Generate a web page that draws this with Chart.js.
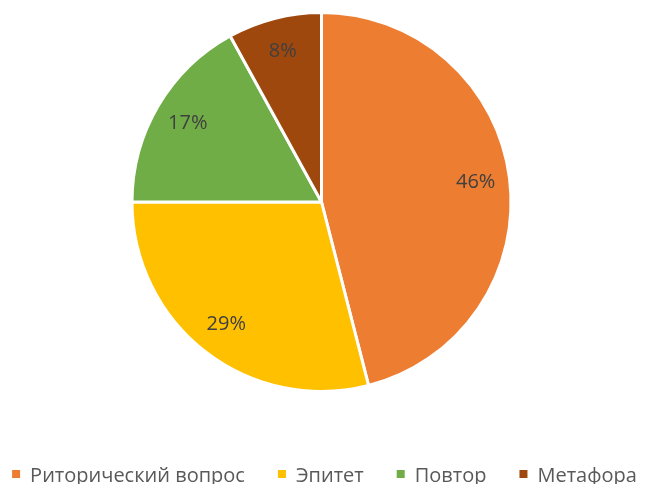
<!DOCTYPE html>
<html>
<head>
<meta charset="utf-8">
<script src="https://cdn.jsdelivr.net/npm/chart.js@4/dist/chart.umd.min.js"></script>
<style>
html,body{margin:0;padding:0;background:#fff;}
#wrap{width:645px;height:484px;position:relative;}
</style>
</head>
<body>
<div id="wrap"><canvas id="c" width="645" height="484"></canvas></div>
<script>
const categories = ["Риторический вопрос", "Эпитет", "Повтор", "Метафора"];
const values = [46, 29, 17, 8];
const labelTexts = ["46%", "29%", "17%", "8%"];
const colors = ["#ED7D31", "#FFC000", "#70AD47", "#9E480E"];

const FONT = "'Open Sans', sans-serif";

const dataLabelPlugin = {
  id: 'dataLabels',
  afterDatasetsDraw(chart) {
    const ctx = chart.ctx;
    const meta = chart.getDatasetMeta(0);
    ctx.save();
    ctx.font = "20px " + FONT;
    ctx.fillStyle = "#404040";
    ctx.textAlign = "center";
    ctx.textBaseline = "middle";
    meta.data.forEach((arc, i) => {
      const p = arc.getProps(['x','y','startAngle','endAngle','outerRadius'], true);
      const mid = (p.startAngle + p.endAngle) / 2;
      const r = p.outerRadius * 0.82;
      ctx.fillText(labelTexts[i], p.x + Math.cos(mid) * r, p.y + Math.sin(mid) * r);
    });
    ctx.restore();
  }
};

const legendPlugin = {
  id: 'customLegend',
  afterDraw(chart) {
    const ctx = chart.ctx;
    ctx.save();
    ctx.font = "20px " + FONT;
    const box = 8, gapText = 10, gapItem = 33;
    const widths = categories.map(t => ctx.measureText(t).width);
    let total = widths.reduce((a, w) => a + box + gapText + w, 0) + gapItem * (categories.length - 1);
    let x = (chart.width - total) / 2 + 2;
    const baseY = 482;
    categories.forEach((t, i) => {
      ctx.fillStyle = colors[i];
      ctx.fillRect(x, baseY - 12, box, box);
      ctx.fillStyle = "#595959";
      ctx.textBaseline = "alphabetic";
      ctx.textAlign = "left";
      ctx.fillText(t, x + box + gapText, baseY);
      x += box + gapText + widths[i] + gapItem;
    });
    ctx.restore();
  }
};

new Chart(document.getElementById('c'), {
  type: 'pie',
  data: {
    labels: categories,
    datasets: [{
      data: values,
      backgroundColor: colors,
      borderColor: "#ffffff",
      borderWidth: 3
    }]
  },
  options: {
    responsive: false,
    animation: false,
    layout: { padding: { top: 11, bottom: 91, left: 0, right: 2 } },
    plugins: {
      legend: { display: false },
      tooltip: { enabled: false }
    }
  },
  plugins: [dataLabelPlugin, legendPlugin]
});
</script>
</body>
</html>
